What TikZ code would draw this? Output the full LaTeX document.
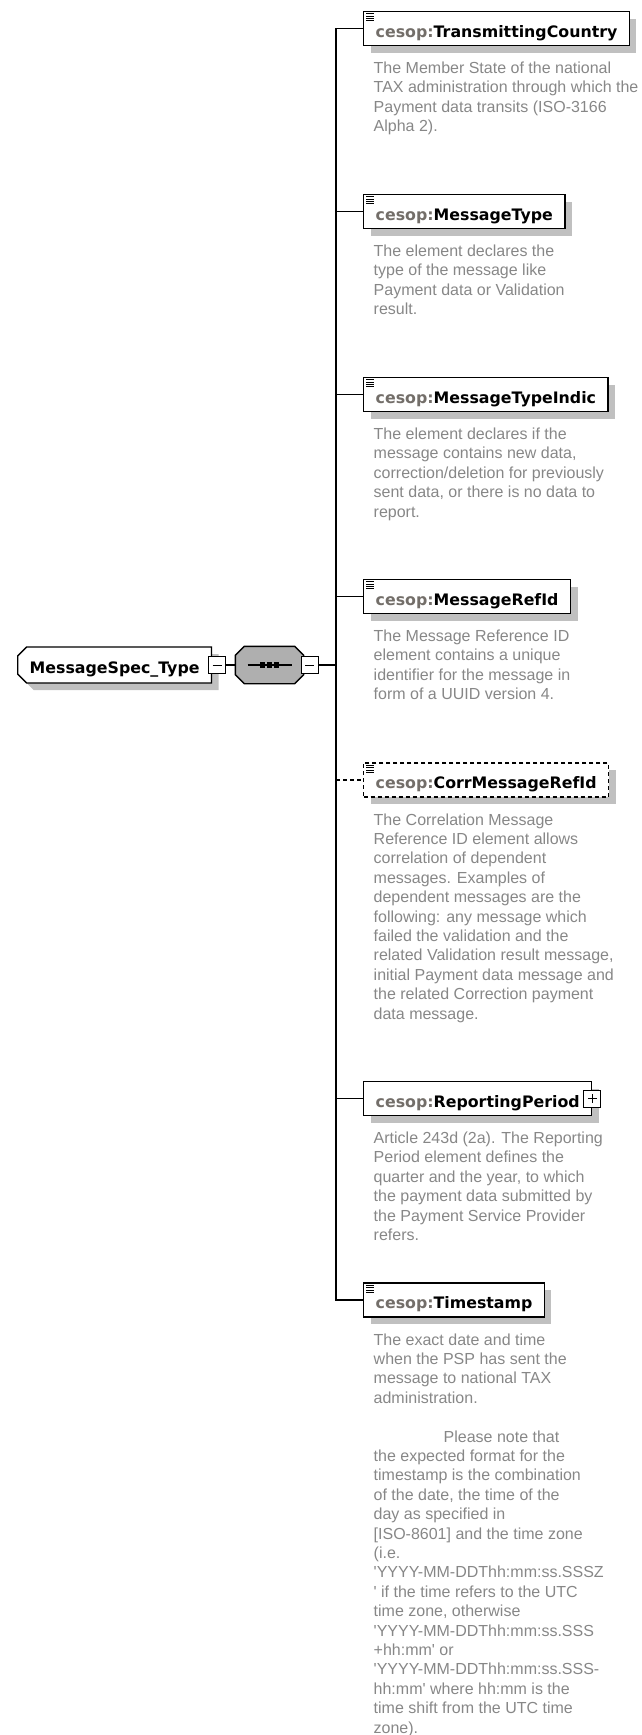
\documentclass[tikz,border=0pt]{standalone}
\usepackage{fontspec}
\newfontfamily\titlefont{DejaVu Sans}
\newfontfamily\descfont{Liberation Sans}
\usetikzlibrary{shapes.misc,shadows,calc}
\definecolor{descgray}{RGB}{135,135,135}
\definecolor{nsgray}{RGB}{115,110,105}
\definecolor{shadowgray}{RGB}{192,192,192}
\definecolor{seqgray}{RGB}{175,175,175}
\newcommand{\elname}[1]{\textcolor{nsgray}{cesop:}#1}
\newcommand{\sq}{\textquotesingle}
\newcommand{\docicon}[1]{\foreach \k in {0,...,3} \draw [line width=0.7pt] ($(#1.north west)+(3,3+2.3*\k)$) -- ++(8,0);}
\newcommand{\octpath}[1]{($(#1.north west)+(9,0)$) -- ($(#1.north east)+(-9,0)$) -- ($(#1.north east)+(0,9)$) -- ($(#1.south east)+(0,-9)$) -- ($(#1.south east)+(-9,0)$) -- ($(#1.south west)+(9,0)$) -- ($(#1.south west)+(0,-9)$) -- ($(#1.north west)+(0,9)$) -- cycle}
\begin{document}
\begin{tikzpicture}[x=1pt,y=-1pt,line width=1.4pt,
  titletext/.style={font=\titlefont\bfseries\fontsize{15.8}{19}\selectfont,text height=17pt,text depth=0pt},
  elbox/.style={draw,fill=white,anchor=west,minimum height=34pt,inner xsep=12pt,titletext,
    drop shadow={shadow xshift=7pt,shadow yshift=-7pt,fill=shadowgray,opacity=1}},
  typebox/.style={chamfered rectangle,chamfered rectangle corners={north west,south west},
    chamfered rectangle xsep=6pt,draw,fill=white,anchor=west,minimum height=36pt,inner xsep=6pt,titletext,
    drop shadow={shadow xshift=7pt,shadow yshift=-7pt,fill=shadowgray,opacity=1}},
  seqbox/.style={minimum width=67pt,minimum height=36pt,inner sep=0pt},
  tbox/.style={draw,fill=white,minimum size=17pt,inner sep=0pt,line width=1pt},
  minusbox/.style={tbox,path picture={
      \draw[line width=1pt] ($(path picture bounding box.west)+(4,0)$) -- ($(path picture bounding box.east)+(-4,0)$);}},
  plusbox/.style={tbox,path picture={
      \draw[line width=1pt] ($(path picture bounding box.west)+(4,0)$) -- ($(path picture bounding box.east)+(-4,0)$);
      \draw[line width=1pt] ($(path picture bounding box.north)+(0,4)$) -- ($(path picture bounding box.south)+(0,-4)$);}},
  desc/.style={anchor=north west,align=left,inner sep=0pt,text=descgray,font=\descfont\fontsize{16}{19.4}\selectfont}]
\useasboundingbox (0,0) rectangle (641,1735);

\node[typebox] (spec) at (17,665) {MessageSpec\_Type};
\node[minusbox] (specm) at ([xshift=5pt]spec.east) {};
\node[seqbox] (seq) at (269.5,665) {};
\fill[shadowgray,shift={(7,7)}] \octpath{seq};
\filldraw[fill=seqgray] \octpath{seq};
\draw[line width=2pt] ($(seq.center)+(-22,0)$) -- ($(seq.center)+(22,0)$);
\foreach \d in {-7,0,7} \fill ($(seq.center)+(\d-2.7,-2.7)$) rectangle ++(5.4,5.4);
\node[minusbox] (seqm) at ([xshift=6pt]seq.east) {};
\coordinate (bus) at (336,665);
\draw (specm.east) -- (seq.west);
\draw (seqm.east) -- (bus);

\node[elbox] (tc) at (363,28.5) {\elname{TransmittingCountry}};
\node[elbox] (mt) at (363,211.5) {\elname{MessageType}};
\node[elbox] (mti) at (363,394.5) {\elname{MessageTypeIndic}};
\node[elbox] (mri) at (363,596.5) {\elname{MessageRefId}};
\node[elbox,dash pattern=on 4pt off 3pt] (corr) at (363,780) {\elname{CorrMessageRefId}};
\node[elbox] (rp) at (363,1098.5) {\elname{ReportingPeriod}};
\node[plusbox] (rpp) at (rp.east) {};
\node[elbox] (ts) at (363,1300) {\elname{Timestamp}};
\docicon{tc}
\docicon{mt}
\docicon{mti}
\docicon{mri}
\docicon{corr}
\docicon{ts}

\draw (bus) |- (tc.west);
\draw (bus) |- (mt.west);
\draw (bus) |- (mti.west);
\draw (bus) |- (mri.west);
\draw [dash pattern=on 4pt off 3pt] (bus |- corr.west) -- (corr.west);
\draw (bus) |- (rp.west);
\draw (bus) |- (ts.west);

\node[desc] (tcd) at ($(tc.south west)+(10,15)$) {The Member State of the national\\TAX administration through which the\\Payment data transits (ISO-3166\\Alpha 2).};
\node[desc] (mtd) at ($(mt.south west)+(10,15)$) {The element declares the\\type of the message like\\Payment data or Validation\\result.};
\node[desc] (mtid) at ($(mti.south west)+(10,15)$) {The element declares if the\\message contains new data,\\correction/deletion for previously\\sent data, or there is no data to\\report.};
\node[desc] (mrid) at ($(mri.south west)+(10,15)$) {The Message Reference ID\\element contains a unique\\identifier for the message in\\form of a UUID version 4.};
\node[desc] (corrd) at ($(corr.south west)+(10,15)$) {The Correlation Message\\Reference ID element allows\\correlation of dependent\\messages. Examples of\\dependent messages are the\\following: any message which\\failed the validation and the\\related Validation result message,\\initial Payment data message and\\the related Correction payment\\data message.};
\node[desc] (rpd) at ($(rp.south west)+(10,15)$) {Article 243d (2a). The Reporting\\Period element defines the\\quarter and the year, to which\\the payment data submitted by\\the Payment Service Provider\\refers.};
\node[desc] (tsd) at ($(ts.south west)+(10,15)$) {The exact date and time\\when the PSP has sent the\\message to national TAX\\administration.\\[19.4pt]\hspace*{70pt}Please note that\\the expected format for the\\timestamp is the combination\\of the date, the time of the\\day as specified in\\{[}ISO-8601{]} and the time zone\\(i.e.\\\sq YYYY-MM-DDThh:mm:ss.SSSZ\\\sq\ if the time refers to the UTC\\time zone, otherwise\\\sq YYYY-MM-DDThh:mm:ss.SSS\\+hh:mm\sq\ or\\\sq YYYY-MM-DDThh:mm:ss.SSS-\\hh:mm\sq\ where hh:mm is the\\time shift from the UTC time\\zone).};
\end{tikzpicture}
\end{document}
